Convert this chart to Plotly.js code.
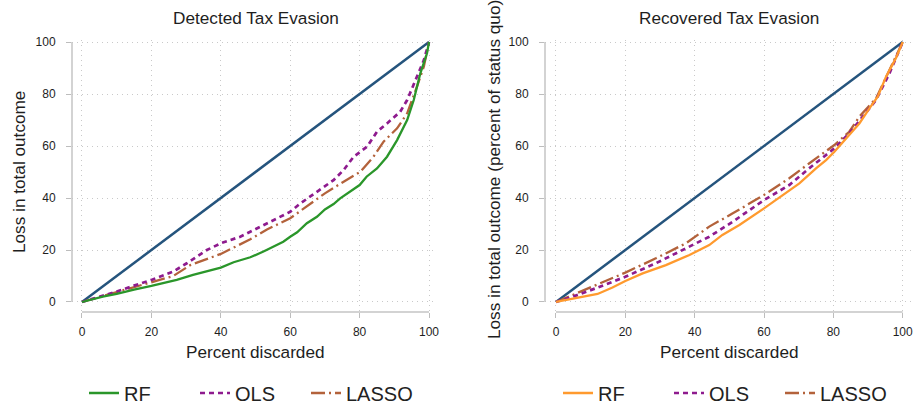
<!DOCTYPE html>
<html>
<head>
<meta charset="utf-8">
<script src="https://cdn.plot.ly/plotly-3.0.1.min.js"></script>
<style>html,body{margin:0;padding:0;background:#fff;} #chart{width:916px;height:408px;}</style>
</head>
<body>
<div id="chart"></div>
<script>
// ---- data ----
const diagX = [0, 100];
const diagY = [0, 100];

// Detected Tax Evasion
const detRF_x = [0, 3, 6, 10, 15, 20, 24, 27.3, 32, 36, 40, 43.7, 48.5, 52.3, 55.2, 58, 60, 62, 64.8, 67.7, 70, 72.5, 74.4, 77.3, 80, 82, 85, 87.9, 90.8, 93.7, 95.6, 97.5, 99.4, 100];
const detRF_y = [0, 1.0, 2.1, 3.1, 4.8, 6.2, 7.3, 8.5, 10.4, 11.7, 13.2, 15.3, 17.2, 19.4, 21.3, 23.2, 25.1, 26.8, 30.3, 32.8, 35.6, 37.7, 39.9, 42.4, 45.0, 48.2, 51.4, 55.9, 62.3, 70.0, 77.7, 88.0, 95.6, 100];
const detOLS_x = [0, 5, 10, 15, 20, 26.3, 30.2, 36, 40, 45.6, 49.4, 53.3, 60, 62.9, 67.7, 72.5, 75.4, 78.3, 82.1, 85, 87.9, 91.7, 93.7, 96.5, 98.5, 100];
const detOLS_y = [0, 2.0, 4.0, 6.3, 8.5, 11.7, 14.9, 20.0, 22.6, 25.1, 27.7, 30.3, 34.7, 37.9, 42.4, 46.9, 50.8, 55.9, 59.7, 65.5, 68.7, 73.2, 77.7, 86.7, 93.0, 100];
const detLASSO_x = [0, 5, 10, 15, 20, 26.3, 31.2, 40, 48.5, 53.3, 60, 65.8, 70, 75.4, 80.2, 84, 86.9, 90.8, 93.7, 96.5, 98.5, 100];
const detLASSO_y = [0, 1.9, 3.6, 5.6, 7.4, 10.0, 14.2, 18.5, 24.1, 27.9, 32.2, 37.9, 41.8, 46.3, 50.1, 55.9, 61.7, 66.8, 72.6, 82.8, 90.5, 100];

// Recovered Tax Evasion
const recRF_x = [0, 4.8, 12, 16.3, 20, 25, 31.7, 38.5, 44.2, 48, 52.9, 60, 64.9, 70.2, 75, 77.9, 80.3, 83.7, 87.5, 90.4, 92.8, 95.2, 98, 100];
const recRF_y = [0, 1.2, 3.1, 5.6, 8.1, 11.0, 14.2, 18.1, 21.9, 25.8, 29.6, 36.0, 40.5, 45.6, 51.4, 54.6, 57.8, 62.9, 68.7, 74.5, 79.0, 86.7, 93.7, 100];
const recOLS_x = [0, 4.8, 11.5, 20, 28.8, 40.4, 44.2, 51, 60, 67.3, 73, 80.3, 84.6, 88.5, 92.3, 96.2, 100];
const recOLS_y = [0, 2.0, 5.3, 9.7, 14.9, 22.8, 25.1, 30.9, 39.2, 45.0, 51.4, 59.1, 64.9, 71.3, 77.7, 88.0, 100];
const recLASSO_x = [0, 4.8, 11.5, 20, 28.8, 37.5, 44.2, 51, 60, 67.3, 73, 80.3, 84.6, 87.5, 92.3, 96.2, 100];
const recLASSO_y = [0, 2.7, 6.5, 11.3, 16.8, 22.6, 29.0, 34.1, 41.2, 47.6, 53.3, 60.4, 65.5, 71.3, 78.3, 89.2, 100];

const seriesNames = ['RF', 'OLS', 'LASSO'];
const panelTitles = ['Detected Tax Evasion', 'Recovered Tax Evasion'];
const xTitle = 'Percent discarded';
const yTitles = ['Loss in total outcome', 'Loss in total outcome (percent of status quo)'];
const tickVals = [0, 20, 40, 60, 80, 100];

// ---- styles ----
const FONT = '"Liberation Sans", Arial, sans-serif';
const diagColor = '#25547d';
const rfColors = ['#2a962a', '#ff9a2e'];
const olsColor = '#8e1b8e';
const lassoColor = '#b3623b';

function panelTraces(xa, ya, legendId, rfColor, rf, ols, lasso) {
  return [
    {x: diagX, y: diagY, xaxis: xa, yaxis: ya, mode: 'lines', showlegend: false, hoverinfo: 'skip',
     line: {color: diagColor, width: 2.5}},
    {x: lasso[0], y: lasso[1], xaxis: xa, yaxis: ya, mode: 'lines', name: seriesNames[2], legend: legendId, legendrank: 3,
     line: {color: lassoColor, width: 2.3, dash: '14px,4px,2px,4px'}},
    {x: ols[0], y: ols[1], xaxis: xa, yaxis: ya, mode: 'lines', name: seriesNames[1], legend: legendId, legendrank: 2,
     line: {color: olsColor, width: 2.7, dash: '5px,4px'}},
    {x: rf[0], y: rf[1], xaxis: xa, yaxis: ya, mode: 'lines', name: seriesNames[0], legend: legendId, legendrank: 1,
     line: {color: rfColor, width: 2.3}}
  ];
}

const data = [].concat(
  panelTraces('x', 'y', 'legend', rfColors[0], [detRF_x, detRF_y], [detOLS_x, detOLS_y], [detLASSO_x, detLASSO_y]),
  panelTraces('x2', 'y2', 'legend2', rfColors[1], [recRF_x, recRF_y], [recOLS_x, recOLS_y], [recLASSO_x, recLASSO_y])
);

const W = 916, H = 408;
const px = v => v / W;
const py = v => (H - v) / H;

function axisCommon(extra) {
  return Object.assign({
    tickvals: tickVals,
    ticks: 'outside', ticklen: 5, tickwidth: 1, tickcolor: '#bdbdbd',
    showgrid: true, gridcolor: '#c9c9c9', griddash: '1px,4px', gridwidth: 1,
    zeroline: false, showline: false,
    tickfont: {family: FONT, size: 12, color: '#1e1e1e'},
    fixedrange: true
  }, extra);
}

const yDomain = [py(312), py(40)];

const legendBase = {
  orientation: 'h', yanchor: 'middle', y: py(393), xanchor: 'left',
  font: {family: FONT, size: 20, color: '#222'}, entrywidth: 66, entrywidthmode: 'pixels',
  bgcolor: 'rgba(0,0,0,0)', traceorder: 'normal'
};

const titleFont = {family: FONT, size: 17.2, color: '#1e1e1e'};

const layout = {
  width: W, height: H,
  margin: {l: 0, r: 0, t: 0, b: 0, autoexpand: false},
  paper_bgcolor: '#fff', plot_bgcolor: '#fff',
  showlegend: true,
  xaxis: axisCommon({domain: [px(72), px(437)], range: [-2.88, 102.3], anchor: 'y', ticklabelstandoff: 4}),
  yaxis: axisCommon({domain: yDomain, range: [-3.85, 100.8], anchor: 'x', ticklabelstandoff: 8}),
  xaxis2: axisCommon({domain: [px(545), px(911)], range: [-3.17, 102.4], anchor: 'y2', ticklabelstandoff: 4}),
  yaxis2: axisCommon({domain: yDomain, range: [-3.85, 100.8], anchor: 'x2', ticklabelstandoff: 8}),
  legend: Object.assign({}, legendBase, {x: px(84)}),
  legend2: Object.assign({}, legendBase, {x: px(558)}),
  shapes: [
    {type: 'line', xref: 'x', yref: 'y domain', x0: 0, x1: 100, y0: 0, y1: 0, line: {color: '#c4c4c4', width: 1.5}},
    {type: 'line', xref: 'x domain', yref: 'y', x0: 0, x1: 0, y0: 0, y1: 100, line: {color: '#c4c4c4', width: 1.5}},
    {type: 'line', xref: 'x2', yref: 'y2 domain', x0: 0, x1: 100, y0: 0, y1: 0, line: {color: '#c4c4c4', width: 1.5}},
    {type: 'line', xref: 'x2 domain', yref: 'y2', x0: 0, x1: 0, y0: 0, y1: 100, line: {color: '#c4c4c4', width: 1.5}}
  ],
  annotations: [
    {text: panelTitles[0], xref: 'paper', yref: 'paper', x: px(256), y: py(18), xanchor: 'center', yanchor: 'middle', showarrow: false, font: titleFont},
    {text: panelTitles[1], xref: 'paper', yref: 'paper', x: px(729), y: py(18), xanchor: 'center', yanchor: 'middle', showarrow: false, font: titleFont},
    {text: xTitle, xref: 'paper', yref: 'paper', x: px(255), y: py(352), xanchor: 'center', yanchor: 'middle', showarrow: false, font: titleFont},
    {text: xTitle, xref: 'paper', yref: 'paper', x: px(729), y: py(352), xanchor: 'center', yanchor: 'middle', showarrow: false, font: titleFont},
    {text: yTitles[0], xref: 'paper', yref: 'paper', x: px(19), y: py(172), xanchor: 'center', yanchor: 'middle', showarrow: false,
     textangle: -90, font: titleFont},
    {text: yTitles[1], xref: 'paper', yref: 'paper', x: px(494), y: py(170), xanchor: 'center', yanchor: 'middle', showarrow: false,
     textangle: -90, font: titleFont}
  ]
};

Plotly.newPlot('chart', data, layout, {displayModeBar: false, staticPlot: true});
</script>
</body>
</html>
